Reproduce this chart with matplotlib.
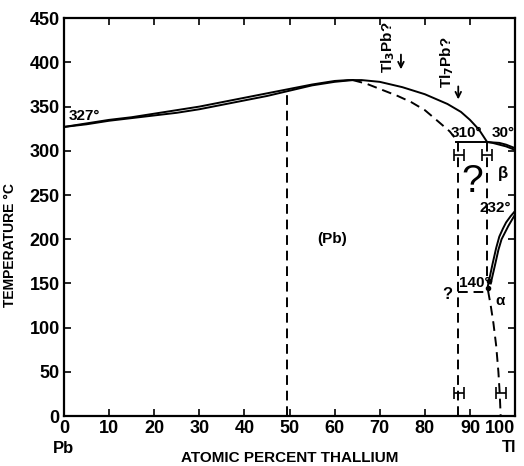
import matplotlib
matplotlib.use('Agg')
import matplotlib.pyplot as plt

plt.rcParams['font.family'] = ['Liberation Sans Narrow', 'Liberation Sans', 'DejaVu Sans']
plt.rcParams['font.weight'] = 'bold'
plt.rcParams['axes.labelweight'] = 'bold'

# liquidus (upper solid line)
LIQ_X = [0, 5, 10, 15, 20, 25, 30, 35, 40, 45, 50, 55, 60, 63, 66, 70, 75, 80, 85, 88, 90, 92, 93.8]
LIQ_Y = [327, 331, 335, 338, 342, 346, 350, 355, 360, 365, 370, 375, 379, 380, 380, 378, 372, 364, 353, 344, 335, 324, 310]
# solidus: solid part close to the liquidus, then dashed branch
SOL_X = [0, 5, 10, 15, 20, 25, 30, 35, 40, 45, 50, 55, 60, 64]
SOL_Y = [327, 330, 334, 337, 340, 343, 347, 352, 357, 362, 368, 374, 378, 380]
SOL_DASH_X = [64, 67, 70, 74, 77, 80, 83, 85.5, 87.4]
SOL_DASH_Y = [380, 376, 370, 362, 355, 346, 333, 322, 310]
# beta region near pure Tl
BETA_UP_X = [93.8, 95, 96.5, 98, 99, 100]
BETA_UP_Y = [310, 309.5, 309, 307, 305, 303]
BETA_LO_X = [93.8, 95, 96.5, 98, 99, 100]
BETA_LO_Y = [310, 309, 307, 305, 303, 301]
# alpha/beta boundary (two solid lines)
AB1_X = [94.0, 94.5, 95.0, 95.8, 96.5, 97.3, 98.0, 99.0, 100]
AB1_Y = [148, 160, 172, 190, 203, 212, 219, 226, 232]
AB2_X = [94.6, 95.1, 95.6, 96.3, 97.0, 97.8, 98.5, 99.3, 100]
AB2_Y = [150, 161, 172, 188, 200, 208, 215, 222, 228]
# dashed solvus below 140
SOLV_X = [94.0, 94.6, 95.2, 95.8, 96.3, 96.6, 96.8]
SOLV_Y = [142, 125, 105, 80, 50, 25, 0]
# vertical dashed phase limits
V50_X, V50_Y = [49.5, 49.5], [0, 370]
V87_X, V87_Y = [87.4, 87.4], [0, 310]
V94_X, V94_Y = [93.8, 93.8], [158, 310]
# horizontal invariants
H310_X, H310_Y = [86.9, 93.8], [310, 310]
H140_X, H140_Y = [87.4, 94.0], [140, 140]
# composition uncertainty bars
ERR_X = [87.5, 93.8, 87.5, 96.8]
ERR_Y = [295, 295, 26, 26]
DOT_X = [94.3, 94.0]
DOT_Y = [153, 145]

X_TICKS = list(range(0, 101, 10))
Y_TICKS = list(range(0, 451, 50))

fig = plt.figure(figsize=(5.24, 4.66), dpi=100)
ax = fig.add_axes([0.122, 0.107, 0.861, 0.854])

lw = 1.4
dash = (0, (5, 3))
ax.plot(LIQ_X, LIQ_Y, color='black', lw=lw)
ax.plot(SOL_X, SOL_Y, color='black', lw=lw)
ax.plot(SOL_DASH_X, SOL_DASH_Y, color='black', lw=lw, ls=dash)
ax.plot(BETA_UP_X, BETA_UP_Y, color='black', lw=lw)
ax.plot(BETA_LO_X, BETA_LO_Y, color='black', lw=lw)
ax.plot(AB1_X, AB1_Y, color='black', lw=lw)
ax.plot(AB2_X, AB2_Y, color='black', lw=lw)
ax.plot(SOLV_X, SOLV_Y, color='black', lw=lw, ls=dash)
for xs, ys in [(V50_X, V50_Y), (V87_X, V87_Y), (V94_X, V94_Y), (H140_X, H140_Y)]:
    ax.plot(xs, ys, color='black', lw=lw, ls=dash)
ax.plot(H310_X, H310_Y, color='black', lw=lw)
ax.errorbar(ERR_X, ERR_Y, xerr=1.1, fmt='none', ecolor='black', elinewidth=1.2,
            capsize=4, capthick=1.2)
ax.plot(DOT_X, DOT_Y, 'o', color='black', ms=3)

ax.set_xlim(0, 100)
ax.set_ylim(0, 450)
ax.set_xticks(X_TICKS)
ax.set_yticks(Y_TICKS)
ax.tick_params(direction='in', length=5, width=1.2, top=True, right=True,
               labelsize=13, pad=3)
ax.get_xticklabels()[-1].set_horizontalalignment('right')
for s in ax.spines.values():
    s.set_linewidth(1.6)

ax.set_xlabel('ATOMIC PERCENT THALLIUM', fontsize=11, labelpad=10)
ax.set_ylabel('TEMPERATURE °C', fontsize=10, labelpad=10)
ax.yaxis.set_label_coords(-0.105, 0.43)
ax.text(0, -37, 'Pb', fontsize=12, ha='center', va='center')
ax.text(98.7, -35, 'Tl', fontsize=12, ha='center', va='center')

ax.text(1, 339, '327°', fontsize=11, ha='left', va='center')
ax.text(59.4, 200, '(Pb)', fontsize=11, ha='center', va='center')
ax.text(90.5, 265, '?', fontsize=28, ha='center', va='center', weight='normal')
ax.text(97.2, 274, 'β', fontsize=12, ha='center', va='center')
ax.text(89.2, 320, '310°', fontsize=11, ha='center', va='center')
ax.text(94.9, 320, '30°', fontsize=11, ha='left', va='center')
ax.text(95.5, 235, '232°', fontsize=11, ha='center', va='center')
ax.text(87.6, 150, '140°', fontsize=11, ha='left', va='center')
ax.text(85.0, 138, '?', fontsize=12, ha='center', va='center')
ax.text(96.6, 130, 'α', fontsize=11, ha='center', va='center')

ax.text(71.8, 417, 'Tl$_3$Pb?', fontsize=11, rotation=90, ha='center', va='center')
ax.annotate('', xy=(74.7, 389), xytext=(74.7, 412),
            arrowprops=dict(arrowstyle='->', lw=1.3, color='black'))
ax.text(84.9, 400, 'Tl$_7$Pb?', fontsize=11, rotation=90, ha='center', va='center')
ax.annotate('', xy=(87.4, 355), xytext=(87.4, 376),
            arrowprops=dict(arrowstyle='->', lw=1.3, color='black'))

fig.savefig('out.png', dpi=100)
